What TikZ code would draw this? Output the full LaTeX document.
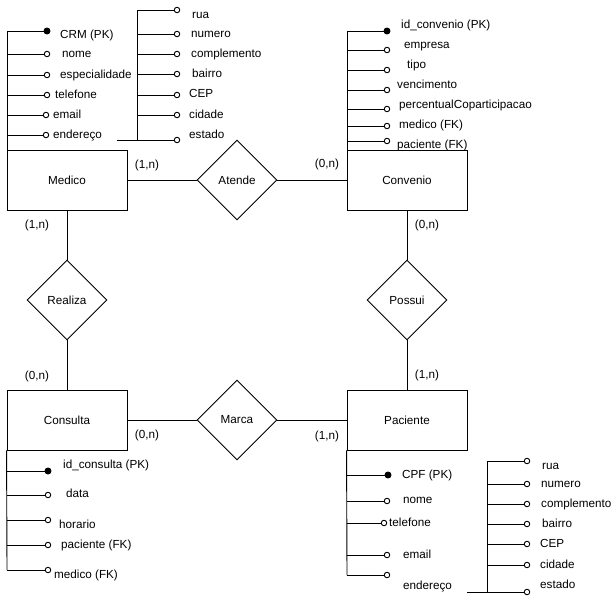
\documentclass[tikz,border=0pt]{standalone}
\usepackage{fontspec}
\setmainfont{Liberation Sans}
\usetikzlibrary{shapes.geometric}

\tikzset{
  conn/.style={draw=black, line width=0.9pt},
  entity/.style={draw=black, line width=0.9pt, fill=white, minimum width=120pt, minimum height=60pt, inner sep=0pt},
  relation/.style={diamond, draw=black, line width=0.9pt, fill=white, minimum width=80pt, minimum height=80pt, inner sep=0pt},
  opendot/.style={circle, draw=black, line width=0.9pt, fill=white, minimum size=5.5pt, inner sep=0pt},
  keydot/.style={circle, draw=black, line width=0.9pt, fill=black, minimum size=6pt, inner sep=0pt},
  attrtext/.style={anchor=west, inner sep=0pt, text height=8.4pt, text depth=2.4pt},
  cardtext/.style={inner sep=0pt, text height=8.4pt, text depth=2.4pt},
}

% attribute: name, dot style, trunk x, line y, dot x, text x, text y, text
\newcommand{\attrib}[8]{%
  \coordinate (#1-t) at (#3,#4);
  \node[#2] (#1) at (#5,#4) {};
  \node[attrtext] (#1-l) at (#6,#7) {#8};
  \draw[conn] (#1-t) -- (#1);
}

\begin{document}
\begin{tikzpicture}[x=1pt, y=-1pt, font=\fontsize{11.7}{14}\selectfont]
\useasboundingbox (0,0) rectangle (614,600);

% entities
\node[entity] (medico)   at (67,180)  {Medico};
\node[entity] (convenio) at (407,180) {Convenio};
\node[entity] (consulta) at (67,420)  {Consulta};
\node[entity] (paciente) at (407,420) {Paciente};

% relationships
\node[relation] (atende)  at (237,180) {Atende};
\node[relation] (realiza) at (67,300)  {Realiza};
\node[relation] (possui)  at (407,300) {Possui};
\node[relation] (marca)   at (237,420) {Marca};

% relationship lines
\draw[conn] (medico.east) -- (atende.west);
\draw[conn] (atende.east) -- (convenio.west);
\draw[conn] (medico.south) -- (realiza.north);
\draw[conn] (realiza.south) -- (consulta.north);
\draw[conn] (convenio.south) -- (possui.north);
\draw[conn] (possui.south) -- (paciente.north);
\draw[conn] (consulta.east) -- (marca.west);
\draw[conn] (marca.east) -- (paciente.west);

% cardinalities
\node[cardtext] (c1) at (147,165) {(1,n)};
\node[cardtext] (c2) at (327,164) {(0,n)};
\node[cardtext] (c3) at (37,225)  {(1,n)};
\node[cardtext] (c4) at (427,225) {(0,n)};
\node[cardtext] (c5) at (37,376)  {(0,n)};
\node[cardtext] (c6) at (427,375) {(1,n)};
\node[cardtext] (c7) at (147,435) {(0,n)};
\node[cardtext] (c8) at (327,436) {(1,n)};

% Medico attributes
\coordinate (medtop) at (7,31);
\draw[conn] (medtop) -- (7,150);
\attrib{mcrm}{keydot}{7}{31}{47}{60}{35}{CRM (PK)}
\attrib{mnome}{opendot}{7}{54}{47}{62}{54}{nome}
\attrib{mesp}{opendot}{7}{75}{47}{60}{75}{especialidade}
\attrib{mtel}{opendot}{7}{95}{47}{55}{95}{telefone}
\attrib{memail}{opendot}{7}{115}{46}{53}{115}{email}
\attrib{mend}{opendot}{7}{135}{46}{53}{135}{endereço}

% Medico address
\coordinate (madtop) at (137,10);
\draw[conn] (madtop) -- (137,140);
\attrib{mrua}{opendot}{137}{10}{177}{192}{15}{rua}
\attrib{mnum}{opendot}{137}{34}{177}{191}{34}{numero}
\attrib{mcomp}{opendot}{137}{54}{177}{191}{54}{complemento}
\attrib{mbai}{opendot}{137}{74}{177}{192}{74}{bairro}
\attrib{mcep}{opendot}{137}{95}{177}{189}{94}{CEP}
\attrib{mcid}{opendot}{137}{115}{177}{189}{115}{cidade}
\attrib{mest}{opendot}{117}{140}{177}{189}{135}{estado}

% Convenio attributes
\coordinate (cvtop) at (347,31);
\draw[conn] (cvtop) -- (347,150);
\attrib{cvid}{keydot}{347}{31}{387}{401}{25}{id\_convenio (PK)}
\attrib{cvemp}{opendot}{347}{50}{387}{404}{45}{empresa}
\attrib{cvtipo}{opendot}{347}{70}{387}{407}{65}{tipo}
\attrib{cvvenc}{opendot}{347}{90}{387}{397}{85}{vencimento}
\attrib{cvperc}{opendot}{347}{109}{387}{399}{105}{percentualCoparticipacao}
\attrib{cvmed}{opendot}{347}{126}{387}{399}{125}{medico (FK)}
\attrib{cvpac}{opendot}{347}{141}{387}{397}{145}{paciente (FK)}

% Consulta attributes
\coordinate (cobot) at (7,570);
\draw[conn] (consulta.south west) -- (cobot);
\attrib{coid}{keydot}{7}{471}{48}{63}{465}{id\_consulta (PK)}
\attrib{codata}{opendot}{7}{495}{48}{66}{494}{data}
\attrib{cohor}{opendot}{7}{520}{48}{59}{525}{horario}
\attrib{copac}{opendot}{7}{545}{48}{61}{545}{paciente (FK)}
\attrib{comed}{opendot}{7}{570}{48}{54}{575}{medico (FK)}

% Paciente attributes
\coordinate (pabot) at (347,575);
\draw[conn] (paciente.south west) -- (pabot);
\attrib{pacpf}{keydot}{347}{475}{388}{402}{475}{CPF (PK)}
\attrib{panome}{opendot}{347}{501}{387}{403}{500}{nome}
\attrib{patel}{opendot}{347}{523}{384}{389}{523}{telefone}
\attrib{paemail}{opendot}{347}{555}{387}{403}{555}{email}
\attrib{paend}{opendot}{347}{575}{387}{403}{586}{endereço}

% Paciente address
\coordinate (padtop) at (487,461);
\draw[conn] (padtop) -- (487,592);
\attrib{prua}{opendot}{487}{461}{527}{542}{466}{rua}
\attrib{pnum}{opendot}{487}{484}{527}{541}{484}{numero}
\attrib{pcomp}{opendot}{487}{504}{527}{541}{504}{complemento}
\attrib{pbai}{opendot}{487}{524}{527}{542}{524}{bairro}
\attrib{pcep}{opendot}{487}{544}{527}{540}{544}{CEP}
\attrib{pcid}{opendot}{487}{565}{527}{540}{565}{cidade}
\attrib{pest}{opendot}{467}{592}{527}{540}{585}{estado}

\end{tikzpicture}
\end{document}
